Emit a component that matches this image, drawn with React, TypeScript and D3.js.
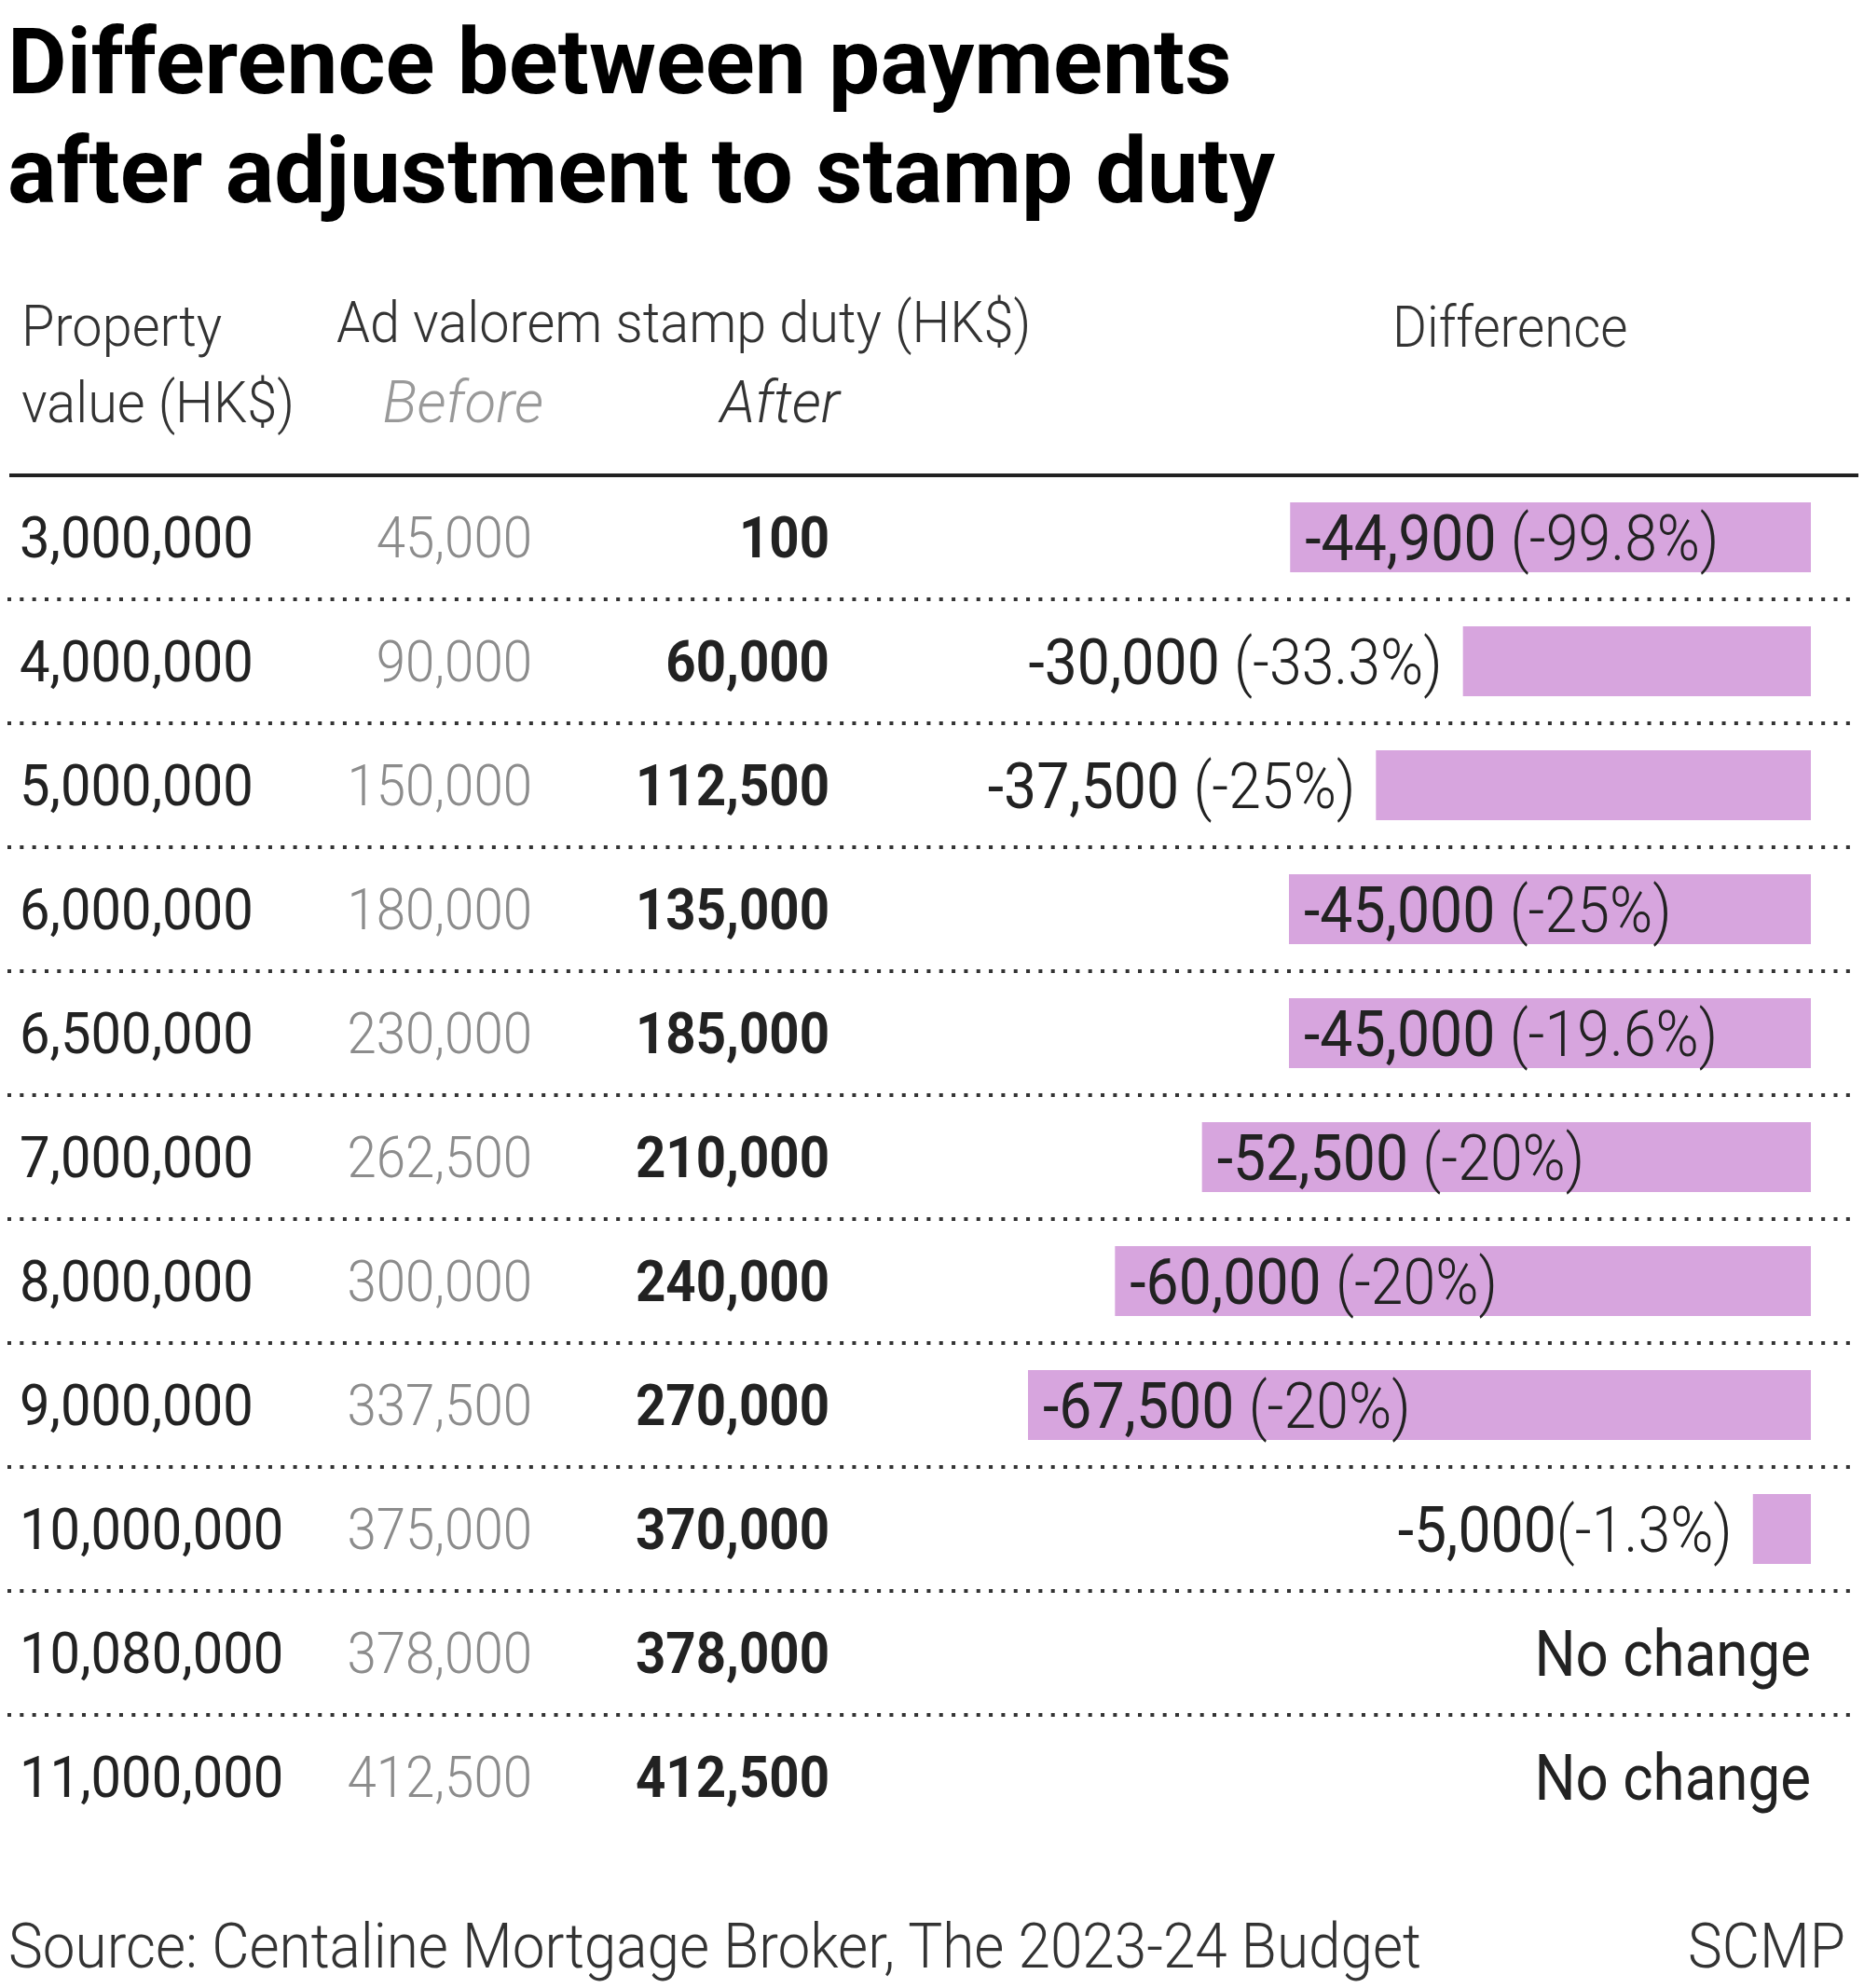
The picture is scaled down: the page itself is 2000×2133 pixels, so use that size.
import React from "react";
import * as d3 from "d3";

const propertyValues = [3000000, 4000000, 5000000, 6000000, 6500000, 7000000, 8000000, 9000000, 10000000, 10080000, 11000000];
const stampBefore = [45000, 90000, 150000, 180000, 230000, 262500, 300000, 337500, 375000, 378000, 412500];
const stampAfter = [100, 60000, 112500, 135000, 185000, 210000, 240000, 270000, 370000, 378000, 412500];
const difference = [-44900, -30000, -37500, -45000, -45000, -52500, -60000, -67500, -5000, 0, 0];
const differencePctLabels = [" (-99.8%)", " (-33.3%)", " (-25%)", " (-25%)", " (-19.6%)", " (-20%)", " (-20%)", " (-20%)", "(-1.3%)", "", ""];
const noChangeLabel = "No change";

const titleLines = ["Difference between payments", "after adjustment to stamp duty"];
const headerProperty = ["Property", "value (HK$)"];
const headerStamp = "Ad valorem stamp duty (HK$)";
const headerBefore = "Before";
const headerAfter = "After";
const headerDiff = "Difference";
const sourceText = "Source: Centaline Mortgage Broker, The 2023-24 Budget";
const creditText = "SCMP";

const W = 2000;
const H = 2133;
const FONT = "Roboto, 'Noto Sans', sans-serif";
const SX = 0.91;
const DARK = "#222222";

const fmt = (v: number) => (v < 0 ? "-" : "") + d3.format(",")(Math.abs(v));

function T(props: {
  x: number; y: number; size: number; anchor?: string; weight?: number; color?: string;
  italic?: boolean; sx?: number; children: React.ReactNode;
}) {
  const { x, y, size, anchor = "start", weight = 400, color = DARK, italic = false, sx = SX, children } = props;
  return (
    <text
      transform={`translate(${x},${y}) scale(${sx},1)`}
      textAnchor={anchor as any}
      fontSize={size}
      fontWeight={weight}
      fill={color}
      fontStyle={italic ? "italic" : "normal"}
      fontFamily={FONT}
    >
      {children}
    </text>
  );
}

export default function App() {
  const n = propertyValues.length;
  const tableTop = 510;
  const rowH = 133;
  const y = d3.scaleBand<number>().domain(d3.range(n)).range([tableTop, tableTop + rowH * n]).paddingInner(0).paddingOuter(0);
  const barRight = 1943;
  const x = d3.scaleLinear().domain([0, 67500]).range([0, 840]);
  const barH = 75;

  const colProp = 21;
  const colBefore = 571;
  const colAfter = 890;

  return (
    <svg width={W} height={H} style={{ position: "absolute", left: 0, top: 0, background: "#fff" }}>
      <rect x={0} y={0} width={W} height={H} fill="#fff" />
      {/* Title */}
      {titleLines.map((t, i) => (
        <T key={t} x={8} y={100 + i * 117} size={98} weight={700} color="#000" sx={1}>{t}</T>
      ))}

      {/* Headers */}
      <T x={23} y={371} size={62} weight={300} color="#333" sx={0.93}>{headerProperty[0]}</T>
      <T x={23} y={453} size={62} weight={300} color="#333" sx={0.93}>{headerProperty[1]}</T>
      <T x={361} y={367} size={62} weight={300} color="#333" sx={0.93}>{headerStamp}</T>
      <T x={583} y={453} size={62} weight={300} color="#999" italic anchor="end" sx={1.0}>{headerBefore}</T>
      <T x={901} y={453} size={62} weight={300} color="#333" italic anchor="end" sx={1.0}>{headerAfter}</T>
      <T x={1494} y={372} size={62} weight={300} color="#333">{headerDiff}</T>

      {/* Header rule */}
      <line x1={10} x2={1994} y1={tableTop} y2={tableTop} stroke="#222" strokeWidth={4} />

      {/* Rows */}
      {propertyValues.map((pv, i) => {
        const c = (y(i) as number) + y.bandwidth() / 2;
        const d = difference[i];
        const len = x(Math.abs(d));
        const barLeft = barRight - len;
        const inside = Math.abs(d) >= 40000;
        return (
          <g key={pv}>
            {i < n - 1 && (
              <line
                x1={8}
                x2={1994}
                y1={(y(i) as number) + rowH}
                y2={(y(i) as number) + rowH}
                stroke="#333"
                strokeWidth={4}
                strokeDasharray="4 9.33"
              />
            )}
            <T x={colProp} y={c + 21} size={62} weight={400} sx={0.935}>{fmt(pv)}</T>
            <T x={colBefore} y={c + 21} size={62} weight={300} color="#8c8c8c" anchor="end">{fmt(stampBefore[i])}</T>
            <T x={colAfter} y={c + 21} size={62} weight={700} anchor="end">{fmt(stampAfter[i])}</T>
            {d !== 0 ? (
              <>
                <rect x={barLeft} y={c - barH / 2} width={len} height={barH} fill="#d7a5de" />
                <T x={inside ? barLeft + 16 : barLeft - 22} y={c + 24} size={68} anchor={inside ? "start" : "end"} sx={0.92}>
                  <tspan fontWeight={400}>{fmt(d)}</tspan>
                  <tspan fontWeight={300}>{differencePctLabels[i]}</tspan>
                </T>
              </>
            ) : (
              <T x={barRight} y={c + 24} size={68} weight={400} anchor="end">{noChangeLabel}</T>
            )}
          </g>
        );
      })}

      {/* Footer */}
      <T x={9} y={2111} size={66} weight={300} color="#333" sx={0.94}>{sourceText}</T>
      <T x={1980} y={2111} size={66} weight={300} color="#333" anchor="end" sx={0.94}>{creditText}</T>
    </svg>
  );
}
